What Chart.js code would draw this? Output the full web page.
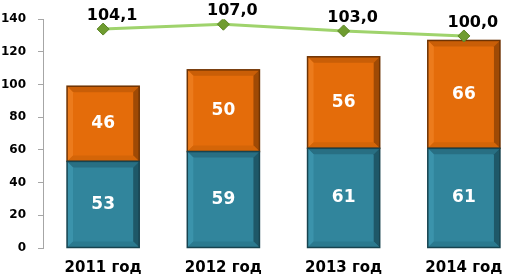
<html>
  <script src="https://cdn.jsdelivr.net/npm/chart.js"></script>
  <body style="margin:0; overflow:hidden; background:#fff">
    <div style="width:531px; height:274px">
      <canvas id="myChart" width="531" height="274"></canvas>
    </div>
  </body>
  <script>
    // values
    var years = ["2011 год", "2012 год", "2013 год", "2014 год"];
    var tealVals = [53, 59, 61, 61];
    var orangeVals = [46, 50, 56, 66];
    var indexVals = [104.1, 107.0, 103.0, 100.0];

    var FONT = "'DejaVu Sans', sans-serif";

    // bevel look for the bars, drawn on top of each bar element
    var bevelColors = {
      0: { top: "#286f83", left: "#3b93ab", right: "#1e5868", bottom: "#2b7a8f", edge: "#17434f" },
      1: { top: "#c95e07", left: "#ec7b1c", right: "#9f4a05", bottom: "#d46508", edge: "#6e3303" }
    };
    var bevelPlugin = {
      id: "bevel",
      afterDatasetDraw: function (chart, args) {
        var c = bevelColors[args.index];
        if (!c) return;
        var ctx = chart.ctx;
        args.meta.data.forEach(function (bar) {
          var p = bar.getProps(["x", "y", "base", "width"], true);
          var l = p.x - p.width / 2, r = p.x + p.width / 2;
          var t = Math.min(p.y, p.base), b = Math.max(p.y, p.base);
          var d = 6;
          ctx.save();
          function poly(pts, col) {
            ctx.beginPath();
            ctx.moveTo(pts[0][0], pts[0][1]);
            for (var i = 1; i < pts.length; i++) ctx.lineTo(pts[i][0], pts[i][1]);
            ctx.closePath();
            ctx.fillStyle = col;
            ctx.fill();
          }
          poly([[l, t], [r, t], [r - d, t + d], [l + d, t + d]], c.top);
          poly([[l, t], [l + d, t + d], [l + d, b - d], [l, b]], c.left);
          poly([[r, t], [r, b], [r - d, b - d], [r - d, t + d]], c.right);
          poly([[l, b], [l + d, b - d], [r - d, b - d], [r, b]], c.bottom);
          ctx.strokeStyle = c.edge;
          ctx.lineWidth = 1.5;
          ctx.strokeRect(l, t, r - l, b - t);
          ctx.restore();
        });
      }
    };

    // value labels
    var labelPlugin = {
      id: "labels",
      afterDatasetsDraw: function (chart) {
        var ctx = chart.ctx;
        ctx.save();
        ctx.textAlign = "center";
        ctx.textBaseline = "middle";
        [0, 1].forEach(function (di) {
          var meta = chart.getDatasetMeta(di);
          var vals = chart.data.datasets[di].data;
          meta.data.forEach(function (bar, i) {
            var p = bar.getProps(["x", "y", "base"], true);
            ctx.font = "bold 17px " + FONT;
            ctx.fillStyle = "#ffffff";
            ctx.fillText(String(vals[i]), p.x, (p.y + p.base) / 2);
          });
        });
        var lm = chart.getDatasetMeta(2);
        lm.data.forEach(function (pt, i) {
          ctx.font = "bold 16px " + FONT;
          ctx.fillStyle = "#000000";
          ctx.fillText(indexVals[i].toFixed(1).replace(".", ","), pt.x + 9, pt.y - 13);
        });
        ctx.restore();
      }
    };

    var dataObj = {
      type: "bar",
      data: {
        labels: years,
        datasets: [
          {
            label: "teal",
            data: tealVals,
            backgroundColor: "#31859c",
            stack: "s",
            order: 1,
            categoryPercentage: 1,
            barPercentage: 0.6
          },
          {
            label: "orange",
            data: orangeVals,
            backgroundColor: "#e46c0a",
            stack: "s",
            order: 1,
            categoryPercentage: 1,
            barPercentage: 0.6
          },
          {
            type: "line",
            label: "index",
            data: indexVals,
            yAxisID: "y2",
            order: 0,
            borderColor: "#9fd36c",
            borderWidth: 3,
            tension: 0,
            pointStyle: "rectRot",
            pointRadius: 6,
            pointBackgroundColor: "#6f9c30",
            pointBorderColor: "#5c8527",
            pointBorderWidth: 1
          }
        ]
      },
      options: {
        responsive: false,
        animation: false,
        layout: { padding: { left: 0, top: 16, right: 0, bottom: 0 } },
        plugins: {
          legend: { display: false },
          tooltip: { enabled: false }
        },
        scales: {
          x: {
            stacked: true,
            grid: { display: false },
            border: { display: false },
            afterFit: function (s) { s.height = 26; },
            ticks: {
              color: "#000",
              font: { family: FONT, size: 15, weight: "bold" },
              padding: 3
            }
          },
          y: {
            stacked: true,
            min: 0,
            max: 140,
            afterFit: function (s) { s.width = 43; },
            ticks: {
              stepSize: 20,
              color: "#000",
              padding: 12,
              font: { family: FONT, size: 12, weight: "bold" }
            },
            grid: {
              drawOnChartArea: false,
              drawTicks: true,
              tickLength: 5,
              color: "#a6a6a6"
            },
            border: { color: "#a6a6a6", width: 1 }
          },
          y2: {
            display: false,
            min: -26.5,
            max: 110
          }
        }
      },
      plugins: [bevelPlugin, labelPlugin]
    };
    const ctx = document.getElementById("myChart").getContext("2d");
    window.myChart = new Chart(ctx, dataObj);
  </script>
</html>
